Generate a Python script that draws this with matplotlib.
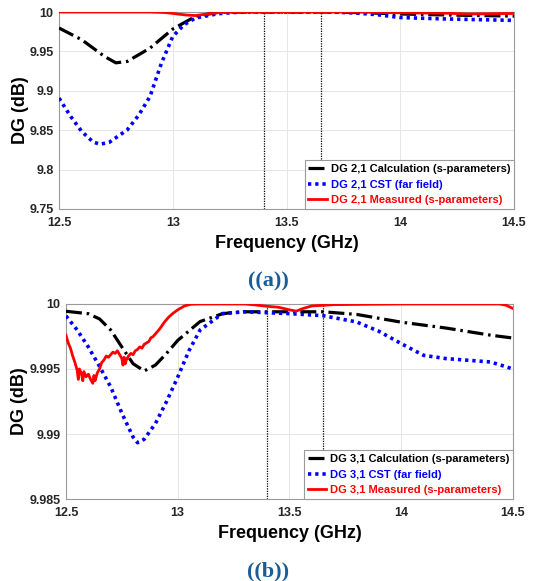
import matplotlib
matplotlib.use("Agg")
import matplotlib.pyplot as plt

# ---------------- data: panel (a) ----------------
f_calc_a = [12.5, 12.6, 12.7, 12.75, 12.8, 12.9, 13.0, 13.1, 13.2, 13.3, 13.7, 13.85, 14.0, 14.25, 14.5]
calc_a   = [9.9797, 9.9648, 9.9436, 9.9355, 9.9373, 9.9542, 9.9784, 9.9945, 9.9996, 10.0, 10.0, 9.9990, 9.9975, 9.9960, 9.9948]

f_cst_a = [12.5, 12.55, 12.6, 12.65, 12.68, 12.72, 12.8, 12.85, 12.9, 12.95, 13.0, 13.05, 13.1, 13.2, 13.3, 13.7, 13.8, 13.9, 14.0, 14.2, 14.5]
cst_a   = [9.8907, 9.8680, 9.8483, 9.8350, 9.8322, 9.8345, 9.8504, 9.8690, 9.8928, 9.9350, 9.9690, 9.9840, 9.9924, 9.9979, 10.0, 10.0, 9.9988, 9.9966, 9.9930, 9.9912, 9.9894]

f_meas_a = [12.5, 12.7, 12.9, 12.97, 13.02, 13.06, 13.1, 13.15, 13.2, 13.3, 13.8, 14.0, 14.2, 14.3, 14.5]
meas_a   = [10.0, 10.0, 10.0, 9.9993, 9.9975, 9.9962, 9.9955, 9.9975, 9.9993, 10.0, 10.0, 9.9990, 9.9985, 9.9975, 9.9982]

# ---------------- data: panel (b) ----------------
f_calc_b = [12.5, 12.6, 12.65, 12.7, 12.75, 12.8, 12.85, 12.9, 12.95, 13.0, 13.1, 13.2, 13.25, 13.3, 13.65, 13.8, 14.0, 14.2, 14.4, 14.5]
calc_b   = [9.99944, 9.99925, 9.99885, 9.99800, 9.99669, 9.99541, 9.99485, 9.99530, 9.99620, 9.99720, 9.99865, 9.99925, 9.99935, 9.99940, 9.99940, 9.99920, 9.99860, 9.99815, 9.99760, 9.99738]

f_cst_b = [12.5, 12.55, 12.6, 12.65, 12.7, 12.75, 12.8, 12.82, 12.85, 12.9, 12.95, 13.0, 13.05, 13.1, 13.2, 13.3, 13.5, 13.65, 13.8, 13.9, 14.0, 14.1, 14.2, 14.4, 14.5]
cst_b   = [9.99908, 9.99800, 9.99669, 9.99520, 9.99362, 9.99160, 9.98977, 9.98933, 9.98960, 9.99080, 9.99250, 9.99438, 9.99640, 9.99800, 9.99926, 9.99940, 9.99926, 9.99910, 9.99862, 9.99790, 9.99695, 9.99605, 9.99580, 9.99554, 9.99500]

f_meas_b = [12.50, 12.51, 12.52, 12.53, 12.54, 12.55, 12.555, 12.56, 12.57, 12.575, 12.58, 12.59, 12.60,
            12.61, 12.62, 12.625, 12.63, 12.64, 12.65, 12.66, 12.67, 12.68, 12.69, 12.70, 12.71, 12.72,
            12.73, 12.74, 12.75, 12.755, 12.76, 12.765, 12.77, 12.78, 12.79, 12.80, 12.81, 12.82, 12.83,
            12.84, 12.85, 12.86, 12.87, 12.88, 12.89, 12.90, 12.92, 12.94, 12.96, 12.98, 13.00, 13.03,
            13.06, 13.1, 13.3, 13.35, 13.4, 13.45, 13.5, 13.53, 13.56, 13.6, 13.7, 14.0, 14.44, 14.47, 14.5]
meas_b   = [9.9976, 9.9970, 9.9966, 9.9960, 9.9955, 9.9949, 9.9942, 9.9950, 9.9946, 9.9941, 9.9948, 9.9944, 9.9946,
            9.9942, 9.9939, 9.9945, 9.9941, 9.9947, 9.9950, 9.9955, 9.9957, 9.9960, 9.9959, 9.9961, 9.9963, 9.9962,
            9.9964, 9.9961, 9.9958, 9.9953, 9.9959, 9.9954, 9.9957, 9.9960, 9.9962, 9.9961, 9.9964, 9.9965, 9.9967,
            9.9966, 9.9969, 9.9970, 9.9971, 9.9974, 9.9975, 9.9977, 9.9981, 9.9986, 9.9990, 9.9993, 9.99955, 9.99985,
            9.99998, 10.0, 10.0, 9.99992, 9.99982, 9.99975, 9.99955, 9.99945, 9.99965, 9.99985, 9.99995, 10.0, 10.0, 9.9999, 9.99965]

marker_lines = [13.4, 13.65]
xticks = [12.5, 13, 13.5, 14, 14.5]
xtick_labels = ["12.5", "13", "13.5", "14", "14.5"]
yticks_a = [9.75, 9.8, 9.85, 9.9, 9.95, 10]
ytick_labels_a = ["9.75", "9.8", "9.85", "9.9", "9.95", "10"]
yticks_b = [9.985, 9.99, 9.995, 10]
ytick_labels_b = ["9.985", "9.99", "9.995", "10"]

labels_a = ["DG 2,1 Calculation (s-parameters)", "DG 2,1 CST (far field)", "DG 2,1 Measured (s-parameters)"]
labels_b = ["DG 3,1 Calculation (s-parameters)", "DG 3,1 CST (far field)", "DG 3,1 Measured (s-parameters)"]

plt.rcParams['font.family'] = ['Liberation Sans', 'DejaVu Sans']
plt.rcParams['font.weight'] = 'bold'

fig = plt.figure(figsize=(5.37, 5.81), dpi=100)
ax_a = fig.add_axes([0.1099, 0.6403, 0.8473, 0.3390])
ax_b = fig.add_axes([0.1229, 0.1411, 0.8324, 0.3357])

dashdot = (0, (5, 1.5, 0.8, 1.5))
dotted = (0, (0.9, 1.1))


def style(ax, yticks, ylabels, ylim, f_c, c, f_s, s, f_m, m, labels, ylab_x):
    ax.plot(f_c, c, color='black', lw=2.3, linestyle=dashdot, label=labels[0], zorder=3)
    ax.plot(f_s, s, color='#0000ff', lw=2.6, linestyle=dotted, label=labels[1], zorder=3)
    ax.plot(f_m, m, color='#ff0000', lw=2.0, linestyle='-', label=labels[2], zorder=4)
    for xv in marker_lines:
        ax.axvline(xv, color='black', lw=0.9, linestyle=(0, (1, 1)), zorder=2)
    ax.set_xlim(12.5, 14.5)
    ax.set_ylim(*ylim)
    ax.set_xticks(xticks)
    ax.set_xticklabels(xtick_labels, fontsize=9, fontweight='bold')
    ax.set_yticks(yticks)
    ax.set_yticklabels(ylabels, fontsize=9, fontweight='bold')
    ax.grid(True, color='#e6e6e6', lw=0.7)
    ax.set_axisbelow(True)
    for sp in ax.spines.values():
        sp.set_color('#9a9a9a')
        sp.set_linewidth(0.8)
    ax.tick_params(length=0, colors='#262626')
    ax.tick_params(axis='x', pad=6)
    ax.tick_params(axis='y', pad=4)
    ax.set_xlabel("Frequency (GHz)", fontsize=13, fontweight='bold', labelpad=4)
    ax.set_ylabel("DG (dB)", fontsize=13, fontweight='bold')
    ax.yaxis.set_label_coords(ylab_x, 0.5)
    leg = ax.legend(loc='lower right', borderaxespad=0, handlelength=1.7,
                    handletextpad=0.3, labelspacing=0.5, borderpad=0.35, fancybox=False,
                    framealpha=1, edgecolor='#9a9a9a', prop={'weight': 'bold', 'size': 8})
    leg.get_frame().set_linewidth(0.8)
    for t, col in zip(leg.get_texts(), ['black', '#0000ff', '#ff0000']):
        t.set_color(col)


style(ax_a, yticks_a, ytick_labels_a, (9.75, 10), f_calc_a, calc_a, f_cst_a, cst_a, f_meas_a, meas_a, labels_a, -0.066)
style(ax_b, yticks_b, ytick_labels_b, (9.985, 10), f_calc_b, calc_b, f_cst_b, cst_b, f_meas_b, meas_b, labels_b, -0.085)

fig.text(0.499, 1 - 281 / 581, "((a))", ha='center', va='center', fontsize=16, fontweight='bold',
         color='#1a5c96', family=['Liberation Serif', 'DejaVu Serif'])
fig.text(0.499, 1 - 571 / 581, "((b))", ha='center', va='center', fontsize=16, fontweight='bold',
         color='#1a5c96', family=['Liberation Serif', 'DejaVu Serif'])

fig.savefig("out.png", dpi=100)
